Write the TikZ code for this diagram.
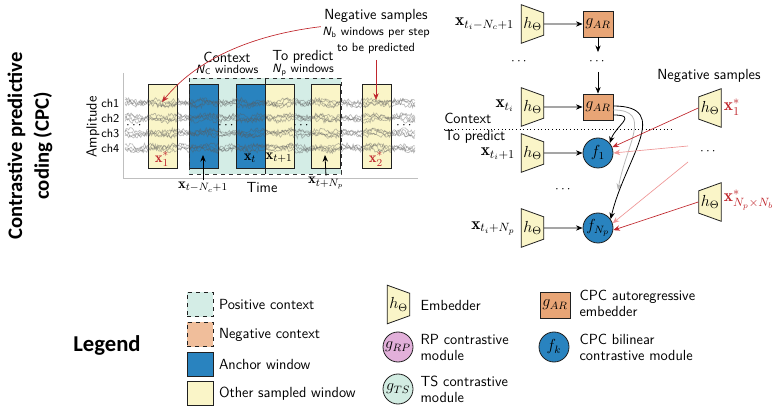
\documentclass[tikz,border=0pt]{standalone}
\usepackage{amsmath, amssymb}
\usepackage{fontspec}
\newfontfamily\headfont{Carlito}
\usetikzlibrary{shapes.geometric, arrows.meta, positioning}

\definecolor{winyellow}{RGB}{250,245,200}
\definecolor{anchorblue}{RGB}{41,131,191}
\definecolor{posteal}{RGB}{212,237,230}
\definecolor{negorange}{RGB}{240,190,155}
\definecolor{arorange}{RGB}{232,165,118}
\definecolor{rppink}{RGB}{226,176,218}
\definecolor{tsteal}{RGB}{210,236,226}
\definecolor{negred}{RGB}{192,39,45}
\definecolor{lightred}{RGB}{238,150,150}

\begin{document}
\begin{tikzpicture}[
    x=0.75pt, y=-0.75pt,
    font=\sffamily,
    lbl/.style={font=\sffamily\fontsize{11}{12}\selectfont, inner sep=1pt},
    sublbl/.style={font=\sffamily\fontsize{9}{10}\selectfont, inner sep=1pt},
    mlbl/.style={font=\fontsize{11}{12}\selectfont, inner sep=1pt},
    biglbl/.style={font=\fontsize{13}{14}\selectfont, inner sep=0.5pt},
    win/.style={draw=gray!25!black, line width=0.6pt},
    sig/.style={gray!70!black, opacity=0.4, line width=0.5pt},
    emb/.style={
        trapezium,
        trapezium stretches=true,
        shape border rotate=270,
        trapezium angle=75,
        minimum width=29pt,
        minimum height=17pt,
        inner sep=0pt,
        draw=gray!25!black,
        fill=winyellow,
        line width=0.6pt,
        font=\fontsize{12}{14}\selectfont
    },
    negemb/.style={emb, shape border rotate=90},
    arbox/.style={
        rectangle,
        minimum width=22.5pt,
        minimum height=19.5pt,
        inner sep=0pt,
        draw=gray!25!black,
        fill=arorange,
        line width=0.6pt,
        font=\fontsize{12}{14}\selectfont
    },
    bil/.style={
        circle,
        minimum size=22.5pt,
        inner sep=0pt,
        draw=gray!25!black,
        fill=anchorblue,
        line width=0.6pt,
        font=\fontsize{12}{14}\selectfont
    },
    swatch/.style={
        rectangle,
        minimum width=19.5pt,
        minimum height=18.5pt,
        inner sep=0pt,
        draw=gray!25!black,
        line width=0.6pt
    },
    link/.style={
        -{Stealth[length=5pt, width=4pt]},
        draw=black,
        line width=0.6pt
    },
    softlink/.style={link, draw=gray!55},
    neglink/.style={link, draw=negred, line width=0.5pt},
    faintlink/.style={link, draw=lightred, line width=0.5pt}
]
    \useasboundingbox (0,0) rectangle (782,413);

    % title and legend heading
    \node (title) [rotate=90, align=center, font=\headfont\bfseries\fontsize{15.5}{20}\selectfont] at (30,146)
        {Contrastive predictive\\coding (CPC)};
    \node (legend) [font=\headfont\bfseries\fontsize{17}{19}\selectfont] at (107,345) {Legend};

    % time series panel
    \draw [gray!50, line width=0.6pt] (123,73) -- (123,178) -- (418,178);
    \fill [posteal] (189,78) rectangle (341,174);

    \node (x1s) [win, fill=winyellow, minimum width=21.75pt, minimum height=63pt, inner sep=0pt] at (162.5,126) {};
    \node (a1)  [win, fill=anchorblue, minimum width=21.75pt, minimum height=63pt, inner sep=0pt] at (203.5,126) {};
    \node (a2)  [win, fill=anchorblue, minimum width=21.75pt, minimum height=63pt, inner sep=0pt] at (250.5,126) {};
    \node (p1)  [win, fill=winyellow, minimum width=21.75pt, minimum height=63pt, inner sep=0pt] at (279.5,126) {};
    \node (p2)  [win, fill=winyellow, minimum width=21.75pt, minimum height=63pt, inner sep=0pt] at (325.5,126) {};
    \node (x2s) [win, fill=winyellow, minimum width=21.75pt, minimum height=63pt, inner sep=0pt] at (376.5,126) {};

    \pgfmathsetseed{11}
    \foreach \yy in {103,118,133,148}
        \foreach \k in {1,2,3,4}
            \draw [sig] plot[domain=125:415, samples=240]
                (\x, {\yy + 2.2*rand + 2.4*sin(4*\x + 70*\k + 3*\yy) + 1.2*sin(13*\x + 40*\k)});

    \draw [dashed, draw=gray!40!black, line width=0.6pt] (189,78) rectangle (341,174);
    \draw [draw=gray!25!black, line width=0.6pt] (265,78) -- (265,174);

    \node (ch1) [sublbl, anchor=east] at (121,103) {ch1};
    \node (ch2) [sublbl, anchor=east] at (121,118) {ch2};
    \node (ch3) [sublbl, anchor=east] at (121,133) {ch3};
    \node (ch4) [sublbl, anchor=east] at (121,148) {ch4};
    \node (amp) [lbl, rotate=90] at (93,127) {Amplitude};
    \node (time) [lbl] at (262,188) {Time};

    \node (dl) at (135,126) {$\cdots$};
    \node (dc) at (227,126) {$\cdots$};
    \node (dp) at (302,126) {$\cdots$};
    \node (dr) at (405,126) {$\cdots$};

    \node (x1slbl) [mlbl, text=negred] at (162,159) {$\mathbf{x}^*_1$};
    \node (x2slbl) [mlbl, text=negred] at (376,159) {$\mathbf{x}^*_2$};
    \node (xtlbl)  [mlbl] at (250,158) {$\mathbf{x}_t$};
    \node (xt1lbl) [mlbl] at (279,158) {$\mathbf{x}_{t+1}$};

    \node (ctx) [lbl] at (227,57) {Context};
    \node (ctxn) [sublbl] at (227,70) {\textit{N}\textsubscript{C} windows};
    \node (prd) [lbl] at (303,57) {To predict};
    \node (prdn) [sublbl] at (303,70) {\textit{N}\textsubscript{p} windows};

    \node (negtxt) [lbl, align=center] at (376,32)
        {Negative samples\\{\fontsize{9}{10}\selectfont\textit{N}\textsubscript{b} windows per step}\\{\fontsize{9}{10}\selectfont to be predicted}};
    \coordinate (x1tip) at (162,102);
    \coordinate (x2tip) at (376,100);
    \draw [neglink] ([yshift=4pt]negtxt.west) .. controls (260,34) and (200,55) .. (x1tip);
    \draw [neglink] ([yshift=-3pt]negtxt.south) -- (x2tip);

    \node (xfirst) [mlbl] at (203,187) {$\mathbf{x}_{t-N_c+1}$};
    \node (xlast)  [mlbl] at (326,183) {$\mathbf{x}_{t+N_p}$};
    \coordinate (a1tip) at (203,155);
    \coordinate (p2tip) at (325,155);
    \draw [link] (xfirst.north) -- (a1tip);
    \draw [link] (xlast.north) -- (p2tip);

    % encoder pipeline
    \node (xin1) [biglbl, anchor=east] at (515,24)  {$\mathbf{x}_{t_i-N_c+1}$};
    \node (xin2) [biglbl, anchor=east] at (515,106) {$\mathbf{x}_{t_i}$};
    \node (xin3) [biglbl, anchor=east] at (516,154) {$\mathbf{x}_{t_i+1}$};
    \node (xin4) [biglbl, anchor=east] at (516,228) {$\mathbf{x}_{t_i+N_p}$};

    \node (h1) [emb] at (532.5,24)  {$h_\Theta$};
    \node (h2) [emb] at (532.5,107) {$h_\Theta$};
    \node (h3) [emb] at (532.5,153) {$h_\Theta$};
    \node (h4) [emb] at (532.5,228) {$h_\Theta$};

    \node (g1) [arbox] at (598,24)  {$g_{AR}$};
    \node (g2) [arbox] at (598,107) {$g_{AR}$};
    \node (f1) [bil] at (598,153) {$f_1$};
    \node (fN) [bil] at (598,228) {$f_{N_p}$};

    \node (hdots) at (520,62) {$\cdots$};
    \node (gdots) [inner ysep=5pt] at (598,62) {$\cdots$};
    \node (fdots) at (564,190) {$\cdots$};

    \node (ctx2) [lbl, inner sep=0pt, anchor=west] at (444,118) {Context};
    \node (prd2) [lbl, inner sep=0pt, anchor=west] at (444,137) {To predict};
    \coordinate (sepL) at (444,129);
    \coordinate (sepR) at (672,129);
    \draw [dotted, line width=0.7pt] (sepL) -- (sepR);

    \draw [link] (h1) -- (g1);
    \draw [link] (g1) -- (gdots);
    \draw [link] (gdots) -- (g2);
    \draw [link] (h2) -- (g2);
    \draw [link] (h3) -- (f1);
    \draw [link] (h4) -- (fN);

    \coordinate (gend) at (618,190);
    \draw [link] ([yshift=-6pt]g2.east) .. controls +(25,0) and +(6,-18) .. (f1.40);
    \draw [softlink] ([yshift=-2.25pt]g2.east) .. controls +(40,0) and +(8,-45) .. (gend);
    \draw [link] ([yshift=0.75pt]g2.east) .. controls +(60,0) and +(14,-60) .. (fN.35);

    % negative samples
    \node (negtitle) [lbl] at (709,76) {Negative samples};
    \node (nh1) [negemb] at (710,108) {$h_\Theta$};
    \node (nh2) [negemb] at (710,202) {$h_\Theta$};
    \node (nx1) [biglbl, text=negred, anchor=west] at (723,107) {$\mathbf{x}^*_1$};
    \node (nx2) [biglbl, text=negred, anchor=west] at (723,200) {$\mathbf{x}^*_{N_p\times N_b}$};
    \node (ndots) at (709,152) {$\cdots$};
    \coordinate (ndA) at (688,146);
    \coordinate (ndB) at (688,162);

    \draw [neglink] (nh1.west) -- (f1.22);
    \draw [faintlink] (ndA) -- (f1.east);
    \draw [faintlink] (ndB) -- (fN.18);
    \draw [neglink] (nh2.west) -- (fN.-8);

    % legend
    \node (lpos) [swatch, fill=posteal, dashed] at (200,304.5) {};
    \node (lneg) [swatch, fill=negorange, dashed] at (200,334.5) {};
    \node (lanc) [swatch, fill=anchorblue] at (200,364.5) {};
    \node (loth) [swatch, fill=winyellow] at (200,393.5) {};
    \node (lposlbl) [lbl, right=3pt of lpos] {Positive context};
    \node (lneglbl) [lbl, right=3pt of lneg] {Negative context};
    \node (lanclbl) [lbl, right=3pt of lanc] {Anchor window};
    \node (lothlbl) [lbl, right=3pt of loth] {Other sampled window};

    \node (lemb) [emb] at (398.5,304.5) {$h_\Theta$};
    \node (lrp) [bil, fill=rppink] at (398,347) {$g_{RP}$};
    \node (lts) [bil, fill=tsteal] at (398,389) {$g_{TS}$};
    \node (lemblbl) [lbl, anchor=west] at (419,305) {Embedder};
    \node (lrplbl) [lbl, anchor=west, align=left] at (419,347) {RP contrastive\\module};
    \node (ltslbl) [lbl, anchor=west, align=left] at (419,389) {TS contrastive\\module};

    \node (lar) [arbox] at (555,305) {$g_{AR}$};
    \node (lfk) [bil] at (554,347) {$f_k$};
    \node (larlbl) [lbl, anchor=west, align=left] at (578,303) {CPC autoregressive\\embedder};
    \node (lfklbl) [lbl, anchor=west, align=left] at (578,347) {CPC bilinear\\contrastive module};

\end{tikzpicture}
\end{document}
